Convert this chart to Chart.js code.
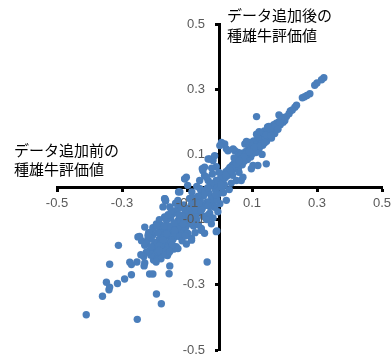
<!DOCTYPE html>
<html>
<head>
<meta charset="utf-8">
<script src="https://cdn.jsdelivr.net/npm/chart.js@4.4.1/dist/chart.umd.min.js"></script>
<style>
  html, body { margin: 0; padding: 0; background: #fff; }
  #chart { display: block; }
</style>
</head>
<body>
<canvas id="chart" width="391" height="354"></canvas>
<script>
// axis titles (x = before adding data, y = after adding data)
const beforeTitle = ['データ追加前の', '種雄牛評価値'];
const afterTitle = ['データ追加後の', '種雄牛評価値'];

const xTicks = [-0.5, -0.3, -0.1, 0.1, 0.3, 0.5];
const yTicks = [-0.5, -0.3, -0.1, 0.1, 0.3, 0.5];

// [before, after] pairs
const upperTail = [
  [0.321,0.335],[0.314,0.329],[0.300,0.319],[0.293,0.312],[0.278,0.286],[0.269,0.281],
  [0.262,0.277],[0.255,0.274],[0.237,0.251],[0.232,0.245],[0.218,0.233],[0.214,0.225],
  [0.195,0.213],[0.183,0.221],[0.114,0.216],[0.206,0.216],[0.224,0.236]
];

const upperBand = [
  [0.201,0.204],[0.196,0.199],[0.190,0.207],[0.187,0.191],[0.183,0.200],[0.178,0.186],
  [0.175,0.196],[0.171,0.179],[0.167,0.191],[0.164,0.174],[0.160,0.183],[0.157,0.168],
  [0.154,0.178],[0.150,0.160],[0.147,0.172],[0.144,0.155],[0.141,0.166],[0.137,0.148],
  [0.135,0.160],[0.131,0.142],[0.129,0.155],[0.126,0.136],[0.123,0.148],[0.119,0.131],
  [0.117,0.143],[0.113,0.124],[0.111,0.137],[0.108,0.118],[0.104,0.131],[0.101,0.112],
  [0.099,0.124],[0.095,0.106],[0.092,0.119],[0.089,0.100],[0.087,0.113],[0.083,0.095],
  [0.080,0.108],[0.077,0.089],[0.075,0.101],[0.071,0.083],[0.068,0.096],[0.066,0.077],
  [0.062,0.090],[0.059,0.071],[0.057,0.084],[0.053,0.065],[0.050,0.078],[0.048,0.059],
  [0.044,0.071],[0.041,0.053],[0.039,0.066],[0.035,0.047],[0.032,0.060],[0.029,0.040],
  [0.027,0.053],[0.023,0.034],[0.020,0.047],[0.017,0.028],[0.014,0.040],[0.011,0.021],
  [0.008,0.033],[0.005,0.014],[0.003,0.026],[0.138,0.172],[0.152,0.186],[0.128,0.163],
  [0.105,0.141],[0.090,0.130],[0.066,0.104],[0.070,0.068],[0.096,0.092],[0.122,0.118],
  [0.145,0.140],[0.160,0.150],[0.058,0.055],[0.040,0.036],[0.086,0.084],[0.112,0.106],
  [0.133,0.128],[0.170,0.164],[0.185,0.196],[0.169,0.183],[0.156,0.173],[0.142,0.159],
  [0.127,0.144],[0.112,0.129],[0.097,0.115],[0.082,0.101],[0.067,0.086],[0.052,0.071],
  [0.037,0.057],[0.022,0.041],[0.008,0.026],[0.118,0.153],[0.148,0.184],[0.100,0.101],
  [0.076,0.079],[0.045,0.089],[0.125,0.126],[0.139,0.136],[0.158,0.158],[0.180,0.177],
  [0.107,0.122],[0.092,0.108],[0.074,0.092],[0.061,0.080],[0.033,0.050],[0.019,0.036]
];

const upperScatter = [
  [0.093,0.137],[0.078,0.132],[0.083,0.140],[0.057,0.106],[0.047,0.111],[0.042,0.117],
  [0.021,0.117],[0.026,0.111],[0.016,0.132],[0.006,0.137],[0.001,0.127],[0.114,0.162],
  [0.122,0.170],[0.144,0.071],[0.103,0.066],[0.118,0.066],[0.067,0.020],[0.072,0.030],
  [0.098,0.056],[0.131,0.100],[0.052,0.020],[0.036,0.012],[0.021,-0.041],[0.030,-0.008],
  [0.012,-0.018],[0.060,0.045]
];

const centerCore = [
  [-0.030,0.086],[-0.020,0.081],[-0.046,0.061],[-0.051,0.050],[-0.046,0.035],[-0.061,0.020],
  [-0.102,0.030],[-0.107,0.025],[-0.053,0.056],[-0.035,0.086],[-0.015,0.096],[-0.010,0.062],
  [-0.002,0.045],[-0.022,0.040],[-0.035,0.020],[0.000,0.004],[-0.006,0.018],[-0.012,-0.010],
  [-0.004,-0.022],[-0.018,0.006],[-0.025,-0.030],[-0.029,0.002],[-0.033,-0.018],[-0.038,-0.046],
  [-0.041,-0.008],[-0.044,-0.056],[-0.049,-0.027],[-0.053,-0.066],[-0.056,-0.012],[-0.059,-0.043],
  [-0.063,-0.076],[-0.066,-0.028],[-0.069,-0.058],[-0.073,-0.090],[-0.076,-0.044],[-0.079,-0.071],
  [-0.083,-0.101],[-0.086,-0.053],[-0.089,-0.081],[-0.093,-0.112],[-0.096,-0.066],[-0.099,-0.094],
  [-0.103,-0.121],[-0.106,-0.078],[-0.109,-0.104],[-0.113,-0.132],[-0.116,-0.088],[-0.119,-0.114],
  [-0.005,-0.076],[-0.035,-0.086],[-0.015,-0.062],[-0.071,-0.054],[0.001,-0.051],[0.008,-0.004],
  [0.015,0.006],[-0.024,0.058],[-0.040,0.030],[-0.070,0.002],[-0.085,-0.015],[-0.092,-0.035],
  [-0.128,-0.041],[-0.117,-0.059],[-0.122,-0.015],[-0.098,0.005],[-0.060,-0.005],[-0.020,-0.045],
  [-0.008,-0.040],[-0.050,-0.090],[-0.030,-0.060],[-0.010,0.020],[-0.026,0.012],[-0.045,-0.015],
  [-0.064,-0.052],[-0.080,-0.034],[-0.012,-0.024],[0.004,0.008],[-0.036,-0.002]
];

const lowerBand = [
  [-0.123,-0.140],[-0.126,-0.101],[-0.129,-0.126],[-0.133,-0.151],[-0.136,-0.111],[-0.139,-0.142],
  [-0.143,-0.160],[-0.146,-0.126],[-0.149,-0.161],[-0.152,-0.139],[-0.156,-0.176],[-0.159,-0.149],
  [-0.163,-0.184],[-0.166,-0.133],[-0.169,-0.166],[-0.173,-0.194],[-0.176,-0.151],[-0.179,-0.177],
  [-0.183,-0.204],[-0.186,-0.161],[-0.189,-0.189],[-0.193,-0.214],[-0.196,-0.171],[-0.199,-0.199],
  [-0.203,-0.224],[-0.206,-0.186],[-0.211,-0.209],[-0.183,-0.132],[-0.174,-0.147],[-0.148,-0.162],
  [-0.138,-0.142],[-0.163,-0.102],[-0.143,-0.081],[-0.122,-0.102],[-0.107,-0.122],[-0.092,-0.091],
  [-0.071,-0.071],[-0.133,-0.183],[-0.153,-0.061],[-0.169,-0.036],[-0.174,-0.061],[-0.166,-0.043],
  [-0.194,-0.117],[-0.205,-0.147],[-0.163,-0.132],[-0.046,-0.142],[-0.010,-0.137],[-0.056,-0.127],
  [-0.008,-0.135],[-0.102,-0.175],[-0.086,-0.157],[-0.056,-0.132],[-0.122,-0.152],[-0.155,-0.120],
  [-0.115,-0.165],[-0.140,-0.190],[-0.180,-0.220],[-0.215,-0.195],[-0.220,-0.160],[-0.190,-0.140],
  [-0.100,-0.140],[-0.080,-0.120],[-0.070,-0.100],[-0.130,-0.070],[-0.150,-0.095],[-0.195,-0.230],
  [-0.160,-0.210],[-0.194,-0.113],[-0.179,-0.118],[-0.230,-0.123],[-0.210,-0.138],[-0.163,-0.143],
  [-0.138,-0.133],[-0.112,-0.113],[-0.086,-0.092],[-0.056,-0.072],[-0.035,-0.057],[-0.025,-0.113],
  [-0.148,-0.072],[-0.117,-0.062],[-0.169,-0.092],[-0.097,-0.143],[-0.199,-0.173],[-0.174,-0.163],
  [-0.148,-0.168],[-0.189,-0.199],[-0.251,-0.153],[-0.230,-0.179],[-0.158,-0.204],[-0.128,-0.189],
  [-0.086,-0.163],[-0.056,-0.133],[-0.168,-0.036],[-0.158,-0.085],[-0.185,-0.100],[-0.205,-0.125],
  [-0.218,-0.140],[-0.240,-0.165],[-0.225,-0.200],[-0.210,-0.160],[-0.186,-0.180],[-0.170,-0.120],
  [-0.140,-0.110],[-0.125,-0.085],[-0.105,-0.150],[-0.075,-0.140],[-0.065,-0.115],[-0.040,-0.100],
  [-0.030,-0.080],[-0.020,-0.095],[-0.110,-0.055],[-0.135,-0.050],[-0.145,-0.178]
];

const lowerTail = [
  [-0.410,-0.392],[-0.253,-0.406],[-0.360,-0.335],[-0.340,-0.315],[-0.338,-0.307],[-0.348,-0.292],
  [-0.314,-0.296],[-0.292,-0.282],[-0.271,-0.269],[-0.338,-0.237],[-0.311,-0.179],[-0.276,-0.231],
  [-0.271,-0.238],[-0.254,-0.230],[-0.233,-0.213],[-0.230,-0.233],[-0.232,-0.242],[-0.215,-0.267],
  [-0.205,-0.267],[-0.194,-0.328],[-0.179,-0.358],[-0.153,-0.242],[-0.155,-0.266],[-0.038,-0.230],
  [-0.246,-0.152],[-0.220,-0.149],[-0.242,-0.208],[-0.186,-0.195],[-0.166,-0.208],[-0.153,-0.198],
  [-0.225,-0.173],[-0.210,-0.183],[-0.194,-0.119],[-0.166,-0.041],[-0.126,-0.015],[-0.107,0.025]
];

const allPoints = upperTail.concat(upperBand, upperScatter, centerCore, lowerBand, lowerTail)
  .map(p => ({x: p[0], y: p[1]}));

const axisTitles = {
  id: 'axisTitles',
  afterDraw(chart) {
    const ctx = chart.ctx;
    ctx.save();
    ctx.font = '15px "Noto Sans CJK JP"';
    ctx.fillStyle = '#000';
    ctx.textBaseline = 'top';
    afterTitle.forEach((t, i) => ctx.fillText(t, 227, 8 + i * 20));
    beforeTitle.forEach((t, i) => ctx.fillText(t, 14, 143 + i * 19));
    ctx.restore();
  }
};

const tickFont = {family: 'Liberation Sans', size: 13};

new Chart(document.getElementById('chart'), {
  type: 'scatter',
  data: {
    datasets: [{
      data: allPoints,
      backgroundColor: '#4A7EBB',
      borderColor: '#4A7EBB',
      borderWidth: 0,
      pointRadius: 3.7,
    }]
  },
  options: {
    responsive: false,
    animation: false,
    devicePixelRatio: 1,
    layout: {padding: {left: 57, right: 9, top: 24, bottom: 1}},
    plugins: {legend: {display: false}, tooltip: {enabled: false}},
    scales: {
      x: {
        type: 'linear', min: -0.5, max: 0.5,
        position: {y: 0},
        afterBuildTicks: s => { s.ticks = xTicks.map(v => ({value: v})); },
        afterFit: s => { s.height = 0; s.paddingLeft = 0; s.paddingRight = 0; },
        border: {color: '#000', width: 3, z: 0},
        grid: {drawOnChartArea: false, tickLength: 3, tickWidth: 3, tickColor: '#000'},
        ticks: {font: tickFont, color: '#595959', padding: 6, z: 1, maxRotation: 0, autoSkip: false,
                callback: v => v.toFixed(1)}
      },
      y: {
        type: 'linear', min: -0.5, max: 0.5,
        position: {x: 0},
        afterBuildTicks: s => { s.ticks = yTicks.map(v => ({value: v})); },
        afterFit: s => { s.width = 0; s.paddingTop = 0; s.paddingBottom = 0; },
        border: {color: '#000', width: 3, z: 0},
        grid: {drawOnChartArea: false, tickLength: 3, tickWidth: 3, tickColor: '#000'},
        // labels sit right-aligned on the axis line here, trailing spaces keep the gap
        ticks: {font: tickFont, color: '#595959', z: 1, autoSkip: false,
                callback: v => v.toFixed(1) + '    '}
      }
    }
  },
  plugins: [axisTitles]
});
</script>
</body>
</html>
